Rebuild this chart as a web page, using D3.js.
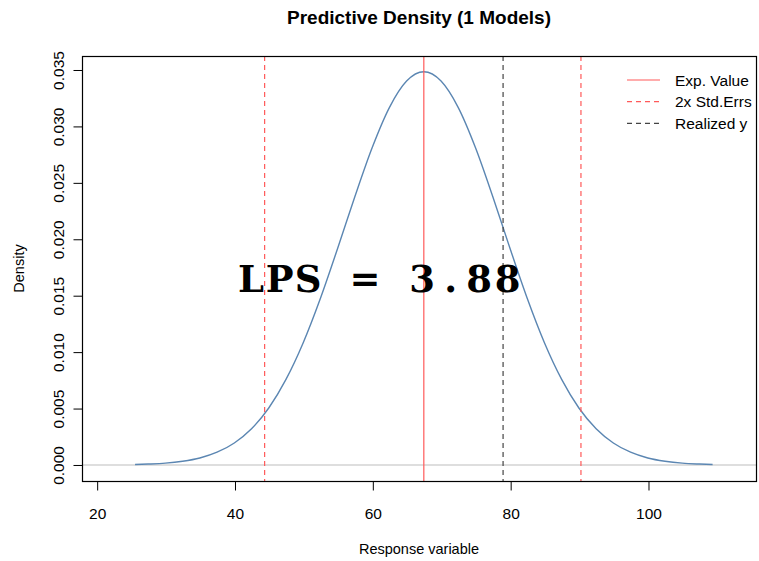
<!DOCTYPE html>
<html><head><meta charset="utf-8">
<script src="https://cdn.jsdelivr.net/npm/d3@7"></script>
<style>body{margin:0;background:#fff}svg{display:block}</style>
</head><body>
<script>
// Data
const densX = [25.5,27.4,29.9,32.4,34.9,37.4,39.9,42.4,44.9,47.4,49.9,52.4,54.9,57.4,59.9,62.4,64.9,67.4,69.9,72.4,74.9,77.4,79.9,82.4,84.9,87.4,89.9,92.4,94.9,97.4,99.9,102.4,104.9,107.4,109.3];
const densY = [0.00004,0.00008,0.00016,0.00033,0.00062,0.00113,0.00195,0.00321,0.00505,0.00758,0.01083,0.01477,0.01920,0.02379,0.02811,0.03167,0.03402,0.03484,0.03402,0.03167,0.02811,0.02379,0.01920,0.01477,0.01083,0.00758,0.00505,0.00321,0.00195,0.00113,0.00062,0.00033,0.00016,0.00008,0.00004];
const expValue = 67.4;
const stdErrBounds = [44.3, 90.2];
const realizedY = 78.9;
const xTicks = [20,40,60,80,100];
const yTicks = [0,0.005,0.010,0.015,0.020,0.025,0.030,0.035];
const legendLabels = ["Exp. Value","2x Std.Errs","Realized y"];
const lpsText = "LPS = 3.88";
const lpsPos = [60.95, 0.0154];
const titleText = "Predictive Density (1 Models)";

const W=759,H=561;
const m={l:82,r:3,t:56,b:80};
const SANS="'Liberation Sans',Arial,sans-serif";
const svg=d3.select("body").append("svg").attr("width",W).attr("height",H)
  .style("font-family",SANS);
const x=d3.scaleLinear().domain([17.8,115.6]).range([m.l,W-m.r]);
const y=d3.scaleLinear().domain([-0.00142,0.03624]).range([H-m.b,m.t]);

// zero line
svg.append("line").attr("x1",x.range()[0]).attr("x2",x.range()[1])
  .attr("y1",y(0)).attr("y2",y(0)).attr("stroke","#bebebe").attr("stroke-width",1.2);

// density curve
svg.append("path").datum(densX.map((d,i)=>[d,densY[i]]))
  .attr("d",d3.line().x(d=>x(d[0])).y(d=>y(d[1])).curve(d3.curveMonotoneX))
  .attr("fill","none").attr("stroke","#5b86b2").attr("stroke-width",1.4);

const vline=(v,col,dash)=>svg.append("line").attr("x1",x(v)).attr("x2",x(v))
  .attr("y1",y.range()[1]).attr("y2",y.range()[0]).attr("stroke",col).attr("stroke-width",1.2)
  .attr("stroke-dasharray",dash);
vline(expValue,"#ff5a5a",null);
stdErrBounds.forEach(v=>vline(v,"#ff5a5a","5,4"));
vline(realizedY,"#444","5,4");

// box
svg.append("rect").attr("x",m.l+0.5).attr("y",m.t+0.5).attr("width",W-m.r-m.l).attr("height",H-m.b-m.t)
  .attr("fill","none").attr("stroke","#000").attr("stroke-width",1.2);

// x axis
const xa=svg.append("g").attr("transform",`translate(0,${H-m.b+0.5})`)
  .call(d3.axisBottom(x).tickValues(xTicks).tickSize(9).tickFormat(d3.format("d")));
xa.select(".domain").remove();
xa.selectAll("text").attr("font-size",15.5).attr("fill","#000").attr("font-family",SANS)
  .attr("y",37).attr("dy",0);
xa.selectAll("line").attr("stroke","#000");

// y axis
const ya=svg.append("g").attr("transform",`translate(${m.l+0.5},0)`)
  .call(d3.axisLeft(y).tickValues(yTicks).tickSize(9).tickFormat(d3.format(".3f")));
ya.select(".domain").remove();
ya.selectAll("line").attr("stroke","#000");
ya.selectAll("text").attr("font-size",15.5).attr("fill","#000").attr("font-family",SANS)
  .attr("text-anchor","middle").attr("x",0).attr("dy",0)
  .attr("transform","translate(-19,0) rotate(-90)");

// titles
svg.append("text").attr("x",(m.l+W-m.r)/2).attr("y",24).attr("text-anchor","middle")
  .attr("font-size",19).attr("font-weight","bold").text(titleText);
svg.append("text").attr("x",(m.l+W-m.r)/2).attr("y",554).attr("text-anchor","middle")
  .attr("font-size",14.5).text("Response variable");
svg.append("text").attr("transform",`translate(24,${(m.t+H-m.b)/2}) rotate(-90)`).attr("text-anchor","middle")
  .attr("font-size",14.5).text("Density");

// LPS (monospaced cells, slab-serif look like Courier bold)
const cell=28.5, cx=x(lpsPos[0]), n=lpsText.length;
const xs=d3.range(n).map(i=>(cx+(i-(n-1)/2)*cell).toFixed(1)).join(" ");
svg.append("text").attr("x",xs).attr("y",y(lpsPos[1])+0.5).attr("text-anchor","middle")
  .attr("font-family","'DejaVu Serif',serif")
  .attr("font-weight","bold").attr("font-size",37).text(lpsText);

// legend
const lcol=["#ff5a5a","#ff5a5a","#444"], ldash=[null,"5,4","5,4"];
legendLabels.forEach((t,i)=>{
  const yy=80+i*21.7;
  svg.append("line").attr("x1",627).attr("x2",660).attr("y1",yy).attr("y2",yy)
    .attr("stroke",lcol[i]).attr("stroke-width",1.2).attr("stroke-dasharray",ldash[i]);
  svg.append("text").attr("x",675).attr("y",yy+5.5).attr("font-size",15.5).text(t);
});
</script>
</body></html>
